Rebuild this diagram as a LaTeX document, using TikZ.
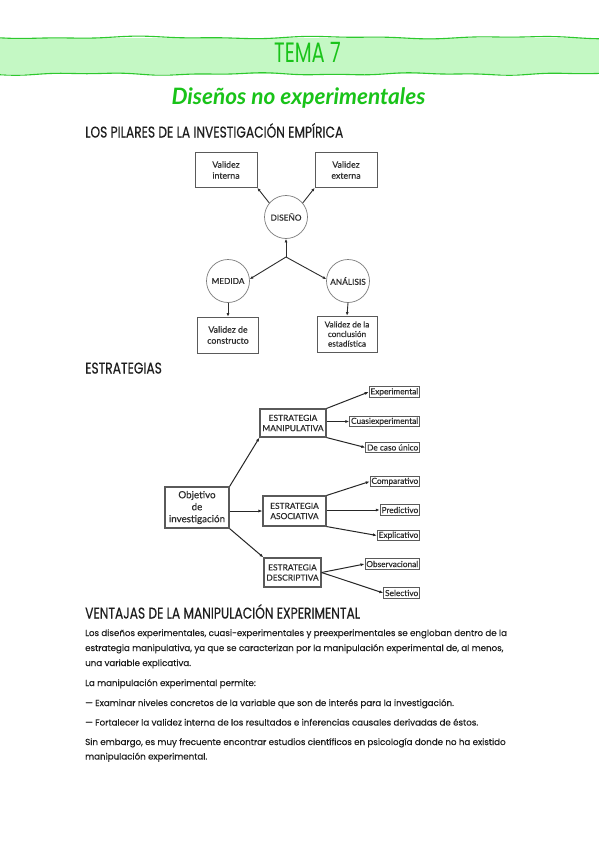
\documentclass[tikz,border=0pt]{standalone}
\usepackage{fontspec}
\setmainfont[FakeBold=0.3]{Poppins}
\newfontfamily\headfont[FakeStretch=0.79,FakeBold=0.35]{Poppins}
\newfontfamily\temafont[FakeStretch=0.7]{Poppins}
\newfontfamily\diafont[FakeBold=0.4]{Lato}
\newfontfamily\subtfont{Lato}
\usetikzlibrary{arrows.meta}
\definecolor{bandfill}{RGB}{196,248,196}
\definecolor{bandline}{RGB}{45,200,45}
\definecolor{greentext}{RGB}{25,195,25}
\definecolor{bodytext}{RGB}{30,30,30}
\definecolor{dialine}{RGB}{90,90,90}
\definecolor{diatext}{RGB}{45,45,45}
\tikzset{
  bodyline/.style={anchor=base west, inner sep=0, text=bodytext, font=\fontsize{8.7}{10}\selectfont},
  headline/.style={anchor=base west, inner sep=0, text=bodytext, font=\headfont\fontsize{15.5}{17}\selectfont},
  pbox/.style={draw=dialine, line width=0.7pt, align=center, inner sep=0, text=diatext,
    font=\diafont\fontsize{8.8}{11}\selectfont, minimum width=62pt, minimum height=35pt},
  pcirc/.style={circle, draw=dialine!80, line width=0.7pt, inner sep=0, minimum size=43pt, text=diatext,
    font=\diafont\fontsize{8.3}{10}\selectfont},
  parr/.style={-{Latex[length=3.5pt,width=3pt]}, line width=0.9pt, draw=diatext},
  sbox/.style={draw=dialine, line width=1.1pt, align=center, inner sep=0, text=diatext,
    font=\diafont\fontsize{8.4}{10.2}\selectfont},
  leaf/.style={draw=dialine, line width=0.9pt, anchor=east, inner xsep=1.3pt, inner ysep=0, minimum height=10.5pt,
    text=diatext, font=\diafont\fontsize{8.3}{9}\selectfont},
  sarr/.style={-{Latex[length=4pt,width=3pt]}, line width=1pt, draw=black!85},
}
\begin{document}
\begin{tikzpicture}[x=1pt,y=-1pt]
\useasboundingbox (0,0) rectangle (599,848);
\fill[white] (0,0) rectangle (599,848);
% banner
\fill[bandfill] (0,38) rectangle (599,74);
\draw[bandline, line width=1.1pt] plot[smooth, domain=0:599, samples=70] (\x, {37.5+0.9*sin(1.9*\x)+0.5*sin(4.3*\x+40)});
\draw[bandline, line width=1.1pt] plot[smooth, domain=0:599, samples=70] (\x, {74+0.8*sin(2.2*\x+70)+0.5*sin(5.1*\x)});
\node[anchor=base, inner sep=0, text=greentext, font=\temafont\fontsize{28}{30}\selectfont] (tema) at (307.5,63) {TEMA 7};
\node[anchor=base, inner sep=0, text=greentext, font=\subtfont\bfseries\itshape\fontsize{22.6}{25}\selectfont] (subt) at (298.5,104.5) {Diseños no experimentales};
% headings
\node[headline] (h1) at (85,137.5) {LOS PILARES DE LA INVESTIGACIÓN EMPÍRICA};
\node[headline] (h2) at (85,373.5) {ESTRATEGIAS};
\node[headline] (h3) at (85,618.5) {VENTAJAS DE LA MANIPULACIÓN EXPERIMENTAL};
% diagram 1
\node[pbox] (vint) at (226,170) {Validez\\interna};
\node[pbox] (vext) at (346,170) {Validez\\externa};
\node[pcirc] (dis) at (286,217) {DISEÑO};
\node[pcirc] (med) at (228,281) {MEDIDA};
\node[pcirc] (ana) at (348,281) {ANÁLISIS};
\node[pbox, minimum width=61pt, minimum height=36pt] (vcon) at (228,335) {Validez de\\constructo};
\node[pbox, minimum width=60pt, minimum height=36pt, font=\diafont\fontsize{8.2}{9.6}\selectfont] (vest) at (347,334) {Validez de la\\conclusión\\estadística};
\coordinate (J) at (286,257);
\draw[parr] (dis.140) -- (vint.south east);
\draw[parr] (dis.40) -- (vext.south west);
\draw[parr] (J) -- (dis.south);
\draw[parr] (J) -- (med.5);
\draw[parr] (J) -- (ana.175);
\draw[parr] (med.south) -- (vcon.north);
\draw[parr] (ana.south) -- (vest.north);
% diagram 2
\node[sbox, line width=1.3pt, minimum width=64pt, minimum height=41pt, font=\diafont\fontsize{9.8}{12}\selectfont] (obj) at (197,507.5) {Objetivo\\de\\investigación};
\node[sbox, minimum width=66pt, minimum height=28pt] (man) at (293,423) {ESTRATEGIA\\MANIPULATIVA};
\node[sbox, minimum width=63pt, minimum height=30pt] (aso) at (294.5,511) {ESTRATEGIA\\ASOCIATIVA};
\node[sbox, minimum width=57pt, minimum height=29pt] (des) at (292.5,572.5) {ESTRATEGIA\\DESCRIPTIVA};
\node[leaf] (exp) at (420,392) {Experimental};
\node[leaf] (cua) at (420,421.5) {Cuasiexperimental};
\node[leaf] (cas) at (420,447.5) {De caso único};
\node[leaf] (com) at (420,481.5) {Comparativo};
\node[leaf] (pre) at (420,510) {Predictivo};
\node[leaf] (exl) at (420,535.5) {Explicativo};
\node[leaf] (obs) at (420,564) {Observacional};
\node[leaf] (sel) at (420,593) {Selectivo};
\draw[sarr] (obj.north east) -- (man.south west);
\draw[sarr] (obj.east |- aso.west) -- (aso.west);
\draw[sarr] (obj.south east) -- (des.north west);
\draw[sarr] (man.north east) -- (exp.west);
\draw[sarr] (man.east |- cua.west) -- (cua.west);
\draw[sarr] (man.south east) -- (cas.west);
\draw[sarr] (aso.north east) -- (com.west);
\draw[sarr] (aso.east |- pre.west) -- (pre.west);
\draw[sarr] (aso.south east) -- (exl.west);
\draw[sarr] (des.east) -- (obs.west);
\draw[sarr] (des.east) -- (sel.west);
% body text
\node[bodyline] (t1) at (85,636) {Los diseños experimentales, cuasi-experimentales y preexperimentales se engloban dentro de la};
\node[bodyline] (t2) at (85,651) {estrategia manipulativa, ya que se caracterizan por la manipulación experimental de, al menos,};
\node[bodyline] (t3) at (85,666) {una variable explicativa.};
\node[bodyline] (t4) at (85,686) {La manipulación experimental permite:};
\node[bodyline] (t5) at (85,706) {— Examinar niveles concretos de la variable que son de interés para la investigación.};
\node[bodyline] (t6) at (85,725.5) {— Fortalecer la validez interna de los resultados e inferencias causales derivadas de éstos.};
\node[bodyline] (t7) at (85,745) {Sin embargo, es muy frecuente encontrar estudios científicos en psicología donde no ha existido};
\node[bodyline] (t8) at (85,759.5) {manipulación experimental.};
\end{tikzpicture}
\end{document}
